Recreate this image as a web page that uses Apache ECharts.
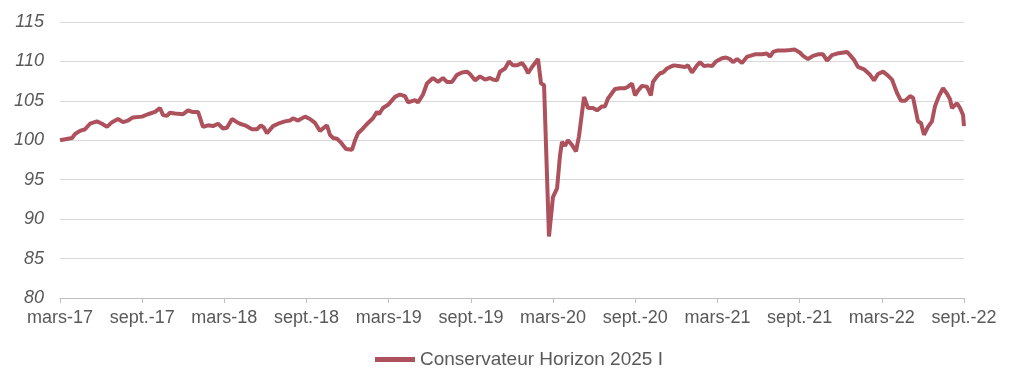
<!DOCTYPE html>
<html>
<head>
<meta charset="utf-8">
<script src="https://cdn.jsdelivr.net/npm/echarts@6/dist/echarts.min.js"></script>
<style>
html,body{margin:0;padding:0;background:#fff;}
#c{width:1021px;height:387px;}
</style>
</head>
<body>
<div id="c"></div>
<script>
// Tick labels every 6 months starting March 2017
const tickLabels = ['mars-17','sept.-17','mars-18','sept.-18','mars-19','sept.-19','mars-20','sept.-20','mars-21','sept.-21','mars-22','sept.-22'];
const seriesName = 'Conservateur Horizon 2025 I';
// Time position in months since March 2017
const monthOffsets = [
0,0.58,0.88,1.10,1.46,1.83,2.19,2.70,3.07,3.43,3.80,4.23,4.60,4.96,5.33,5.99,6.42,6.94,7.30,7.52,7.81,8.03,8.40,8.98,9.34,9.64,10.08,10.44,10.81,11.17,11.54,11.90,12.19,12.56,12.92,
13.14,13.51,14.02,14.38,14.67,14.89,15.11,15.55,15.92,16.43,16.79,17.01,17.38,17.89,18.25,18.62,18.98,19.49,19.71,19.93,20.22,20.52,20.66,20.88,21.32,21.54,21.76,22.12,22.49,22.85,23.14,23.29,23.58,23.95,24.46,24.82,25.19,25.41,25.92,26.14,26.50,
26.79,27.23,27.60,27.96,28.25,28.62,28.98,29.35,29.71,29.93,30.30,30.66,31.03,31.39,31.61,31.90,32.12,32.49,32.78,33.07,33.36,33.73,33.95,34.17,34.46,34.90,35.12,35.34,35.70,35.99,36.29,36.50,36.65,36.87,37.09,37.38,37.67,37.89,38.26,38.55,38.91,39.21,39.57,39.79,40.01,
40.52,40.88,41.25,41.47,41.76,41.98,42.20,42.49,42.85,43.14,43.29,43.59,43.81,44.02,44.32,44.54,44.83,45.27,45.63,45.85,46.14,46.51,46.73,47.02,47.31,47.60,47.89,48.33,48.62,48.91,49.13,49.43,49.79,50.16,50.38,50.74,51.25,51.62,51.84,52.06,52.42,52.93,53.30,53.66,
54.03,54.25,54.61,54.98,55.34,55.71,56.00,56.36,56.73,57.09,57.46,57.68,57.97,58.26,58.70,59.14,59.43,59.72,60.09,60.45,60.74,61.11,61.40,61.69,62.06,62.28,62.64,62.86,63.08,63.37,63.66,63.88,64.17,64.47,64.76,64.98,65.12,65.49,65.71,65.93,66.0
];
const values = [
100.0,100.2,100.3,100.8,101.2,101.4,102.1,102.4,102.1,101.7,102.3,102.7,102.3,102.5,102.9,103.0,103.3,103.6,104.1,103.2,103.1,103.5,103.4,103.3,103.8,103.6,103.6,101.7,101.9,101.8,102.1,101.5,101.6,102.7,102.3,
102.1,101.9,101.4,101.4,101.9,101.6,100.9,101.8,102.1,102.4,102.5,102.8,102.5,103.0,102.7,102.2,101.2,101.9,100.7,100.3,100.2,99.7,99.7,98.9,98.8,100.0,100.9,101.5,102.2,102.8,103.6,103.3,104.1,104.5,105.5,105.8,105.6,104.8,105.1,104.8,105.8,
107.2,107.9,107.4,107.9,107.4,107.4,108.3,108.6,108.7,108.4,107.6,108.1,107.7,107.9,107.7,107.6,108.7,109.1,110.0,109.5,109.5,109.8,109.3,108.5,109.3,110.3,107.2,107.0,87.8,92.8,93.9,98.0,99.8,99.3,100.0,99.4,98.6,100.5,105.5,104.1,104.1,103.8,104.3,104.3,105.3,
106.5,106.6,106.6,106.8,107.2,105.7,106.3,106.9,106.8,105.7,107.4,108.1,108.5,108.6,109.1,109.3,109.5,109.4,109.3,109.5,108.6,109.5,109.9,109.4,109.5,109.4,110.0,110.4,110.5,110.3,109.9,110.3,109.8,110.6,110.7,110.9,110.9,111.0,110.6,111.2,111.4,111.4,111.45,111.5,
111.1,110.7,110.3,110.7,110.9,110.9,110.1,110.8,111.0,111.1,111.2,110.8,110.2,109.3,109.0,108.3,107.6,108.4,108.7,108.2,107.7,106.0,105.0,105.0,105.6,105.4,102.4,102.2,100.7,101.7,102.4,104.3,105.6,106.6,105.9,105.2,104.1,104.7,104.1,103.2,101.8
];

const data = monthOffsets.map((m, i) => [m, values[i]]);
const chart = echarts.init(document.getElementById('c'), null, {renderer: 'canvas'});
const font = 'Liberation Sans, Arial, sans-serif';
chart.setOption({
  animation: false,
  grid: {left: 60, right: 57, top: 22, bottom: 89, containLabel: false},
  xAxis: {
    type: 'value', min: 0, max: 66, interval: 6,
    axisLine: {show: true, lineStyle: {color: '#bfbfbf', width: 1}},
    axisTick: {show: true, length: 5, lineStyle: {color: '#bfbfbf'}},
    splitLine: {show: false},
    axisLabel: {
      margin: 11, color: '#595959', fontSize: 18, fontFamily: font,
      formatter: v => tickLabels[Math.round(v / 6)]
    }
  },
  yAxis: {
    type: 'value', min: 80, max: 115, interval: 5,
    axisLine: {show: false}, axisTick: {show: false},
    splitLine: {lineStyle: {color: '#d9d9d9', width: 1}},
    axisLabel: {margin: 16, color: '#595959', fontSize: 18, fontStyle: 'italic', fontFamily: font}
  },
  legend: {
    left: 370, top: 345, icon: 'rect', itemWidth: 40, itemHeight: 5, itemGap: 5,
    textStyle: {color: '#595959', fontSize: 19, fontFamily: font},
    data: [seriesName]
  },
  series: [{
    name: seriesName, type: 'line', data: data, showSymbol: false, symbol: 'none',
    lineStyle: {color: '#ad525c', width: 4}, itemStyle: {color: '#ad525c'}
  }]
});
</script>
</body>
</html>
